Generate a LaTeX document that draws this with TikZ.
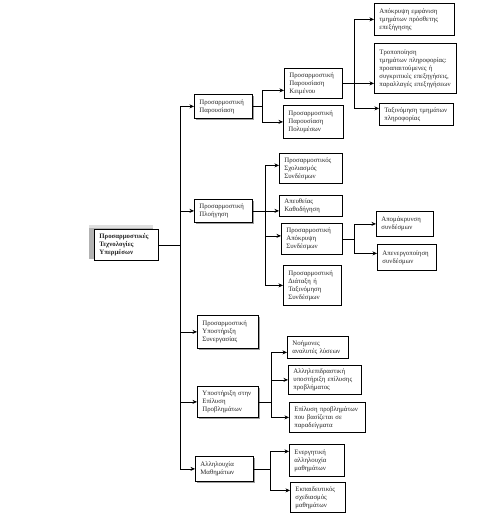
\documentclass[tikz,border=0pt]{standalone}
\usepackage{fontspec}
\setmainfont{Liberation Serif}
\usetikzlibrary{arrows.meta,shadows}
\tikzset{
  box/.style={draw,line width=.8pt,fill=white,anchor=north west,align=left,
    inner xsep=5pt,inner ysep=1pt,text=black!85,font=\fontsize{6.8}{8}\selectfont},
  mainbox/.style={box,drop shadow={shadow xshift=2pt,shadow yshift=-2pt,fill=gray!75,opacity=1}},
  rootbox/.style={box,font=\fontsize{6.8}{8}\selectfont\bfseries,
    general shadow={shadow xshift=-5pt,shadow yshift=4pt,fill=gray!25,opacity=1},
    general shadow={shadow xshift=-5pt,shadow yshift=1pt,fill=gray!60,opacity=1}},
  arr/.style={-{Stealth[length=4.5pt,width=4pt]},line width=.6pt}
}
\begin{document}
\begin{tikzpicture}[x=1pt,y=-1pt]
\useasboundingbox (0,0) rectangle (480,519);
% root
\node[rootbox,text width=54pt,minimum height=31pt] (root) at (94,229) {Προσαρμοστικές\\Τεχνολογίες\\Υπερμέσων};
% first level
\node[mainbox,text width=48pt,minimum height=24pt] (pres) at (194,94) {Προσαρμοστική\\Παρουσίαση};
\node[mainbox,text width=48pt,minimum height=23pt] (nav) at (194,199) {Προσαρμοστική\\Πλοήγηση};
\node[mainbox,text width=51pt,minimum height=33pt] (collab) at (197,315) {Προσαρμοστική\\Υποστήριξη\\Συνεργασίας};
\node[mainbox,text width=51pt,minimum height=31pt] (prob) at (197,386) {Υποστήριξη στην\\Επίλυση\\Προβλημάτων};
\node[mainbox,text width=48pt,minimum height=25pt] (seq) at (195,456) {Αλληλουχία\\Μαθημάτων};
% presentation
\node[box,text width=48pt,minimum height=30pt] (text) at (284,68) {Προσαρμοστική\\Παρουσίαση\\Κειμένου};
\node[box,text width=50pt,minimum height=33pt] (media) at (283,105) {Προσαρμοστική\\Παρουσίαση\\Πολυμέσων};
\node[box,text width=70pt,minimum height=32pt] (hideinfo) at (374,3) {Απόκρυψη εμφάνιση\\τμημάτων πρόσθετης\\επεξήγησης};
\node[box,text width=72pt,minimum height=50pt] (modify) at (374,43) {Τροποποίηση\\τμημάτων πληροφορίας:\\προαπαιτούμενες ή\\συγκριτικές επεξηγήσεις,\\παραλλαγές επεξηγήσεων};
\node[box,text width=64pt,minimum height=22pt] (sortinfo) at (379,103) {Ταξινόμηση τμημάτων\\πληροφορίας};
% navigation
\node[box,text width=53pt,minimum height=30pt] (annot) at (279,153) {Προσαρμοστικός\\Σχολιασμός\\Συνδέσμων};
\node[box,text width=53pt,minimum height=21pt] (guide) at (279,195) {Απευθείας\\Καθοδήγηση};
\node[box,text width=51pt,minimum height=31pt] (hide) at (281,223) {Προσαρμοστική\\Απόκρυψη\\Συνδέσμων};
\node[box,text width=48pt,minimum height=40pt] (sort) at (283,265) {Προσαρμοστική\\Διάταξη ή\\Ταξινόμηση\\Συνδέσμων};
\node[box,text width=47pt,minimum height=25pt] (remove) at (376,211) {Απομάκρυνση\\συνδέσμων};
\node[box,text width=49pt,minimum height=26pt] (disable) at (377,244) {Απενεργοποίηση\\συνδέσμων};
% problem solving
\node[box,text width=51pt,minimum height=22pt] (tutor) at (287,336) {Νοήμονες\\αναλυτές λύσεων};
\node[box,text width=63pt,minimum height=29pt] (interact) at (288,365) {Αλληλεπιδραστική\\υποστήριξη επίλυσης\\προβλήματος};
\node[box,text width=66pt,minimum height=30pt] (example) at (289,402) {Επίλυση προβλημάτων\\που βασίζεται σε\\παραδείγματα};
% sequencing
\node[box,text width=45pt,minimum height=32pt] (active) at (289,444) {Ενεργητική\\αλληλουχία\\μαθημάτων};
\node[box,text width=45pt,minimum height=30pt] (plan) at (290,482) {Εκπαιδευτικός\\σχεδιασμός\\μαθημάτων};
% connectors
\foreach \n in {pres,nav,collab,prob,seq}
  \draw[arr] (root.east) -- ++(21,0) |- (\n.west);
\draw[arr] (pres.east) -- ++(9,0) |- ([yshift=-7pt]text.west);
\draw[arr] (pres.east) -- ++(9,0) |- (media.west);
\draw[arr] (text.east) -- ++(11,0) |- (hideinfo.west);
\draw[arr] (text.east) -- (modify.west |- text.east);
\draw[arr] (text.east) -- ++(11,0) |- ([yshift=6pt]sortinfo.west);
\draw[arr] (nav.east) -- ++(12,0) |- ([yshift=3pt]annot.west);
\draw[arr] (nav.east) -- (guide.west |- nav.east);
\draw[arr] (nav.east) -- ++(12,0) |- ([yshift=3pt]hide.west);
\draw[arr] (nav.east) -- ++(12,0) |- (sort.west);
\draw[arr] (hide.east) -- ++(11,0) |- (remove.west);
\draw[arr] (hide.east) -- ++(11,0) |- ([yshift=4pt]disable.west);
\draw[arr] (prob.east) -- ++(12,0) |- ([yshift=-5pt]tutor.west);
\draw[arr] (prob.east) -- ++(12,0) |- (interact.west);
\draw[arr] (prob.east) -- ++(12,0) |- (example.west);
\draw[arr] (seq.east) -- ++(16,0) |- ([yshift=9pt]active.west);
\draw[arr] (seq.east) -- ++(16,0) |- ([yshift=7pt]plan.west);
\end{tikzpicture}
\end{document}
